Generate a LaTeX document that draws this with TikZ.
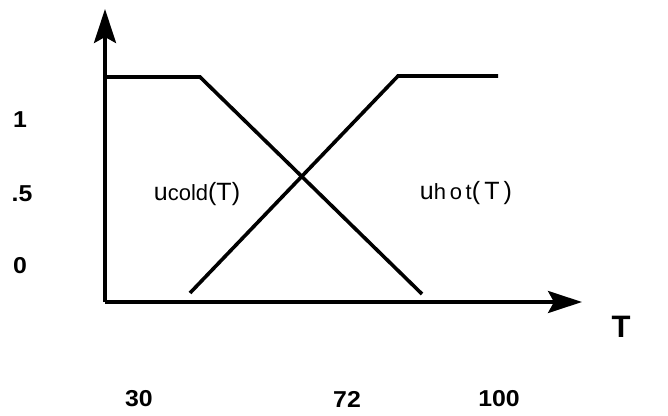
\documentclass[tikz,border=0pt]{standalone}
\usepackage{fontspec}
\setmainfont{Liberation Sans}
\usetikzlibrary{arrows.meta}
\begin{document}
\begin{tikzpicture}[x=1pt,y=1pt,
  axis/.style={line width=3.6pt,-{Stealth[length=34pt,width=22pt,inset=6pt]}},
  curve/.style={line width=3.6pt,line join=miter},
  ticklabel/.style={font=\fontsize{23}{25}\selectfont\bfseries,inner sep=0pt,xscale=1.08},
  funlabel/.style={font=\fontsize{25}{27}\selectfont,inner sep=0pt}]
\useasboundingbox (0,0) rectangle (668,415);
% axes
\coordinate (O) at (105,113);
\coordinate (Ytip) at (105,406);
\coordinate (Xtip) at (582,113);
\draw[axis] (O) -- (Ytip);
\draw[axis] (O) -- (Xtip);
% cold membership
\coordinate (c0) at (105,338);
\coordinate (c1) at (200,338);
\coordinate (c2) at (422,121);
\draw[curve] (c0) -- (c1) -- (c2);
% hot membership
\coordinate (h0) at (190,122);
\coordinate (h1) at (398,339);
\coordinate (h2) at (498,339);
\draw[curve] (h0) -- (h1) -- (h2);
% y labels
\node[ticklabel] (l1) at (20,295) {1};
\node[ticklabel] (l05) at (22,221) {.5};
\node[ticklabel] (l0) at (20,149) {0};
% function labels
\node[funlabel] (cold) at (197,221) {u{\fontsize{22}{24}\selectfont cold}(T)};
\node[funlabel] (hot) at (466,222) {u{\fontsize{22}{24}\selectfont h\,o\,t}(\,T\,)};
% axis label
\node[font=\fontsize{31}{33}\selectfont\bfseries,inner sep=0pt] (T) at (621,88) {T};
% x labels
\node[ticklabel] (x30) at (139,16) {30};
\node[ticklabel] (x72) at (347,16) {72};
\node[ticklabel] (x100) at (499,16) {100};
\end{tikzpicture}
\end{document}
